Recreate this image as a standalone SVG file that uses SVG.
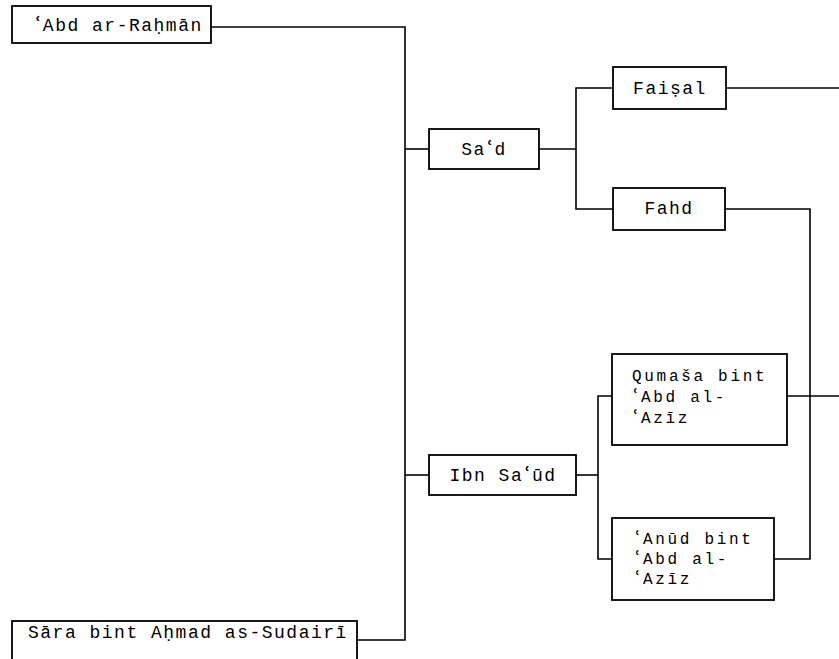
<svg xmlns="http://www.w3.org/2000/svg" width="839" height="659" viewBox="0 0 839 659">
<style>
.box{fill:#fff;stroke:#000;stroke-width:1.8}
.ln{fill:none;stroke:#000;stroke-width:1.6}
text{font-family:"Liberation Mono","DejaVu Sans Mono",monospace;font-size:18px;letter-spacing:1.5px;fill:#000}
text.m{font-size:16px;letter-spacing:2.7px}
.a{font-family:"DejaVu Sans","Noto Sans",sans-serif;font-size:20px;font-weight:bold}
text.m .a{font-size:17px}
</style>
<rect width="839" height="659" fill="#fff"/>
<g id="connectors">
<polyline class="ln" points="211,27 405,27 405,640 357,640"/>
<line class="ln" x1="405" y1="149" x2="429" y2="149"/>
<line class="ln" x1="405" y1="475" x2="429" y2="475"/>
<line class="ln" x1="539" y1="149" x2="576" y2="149"/>
<polyline class="ln" points="613,88 576,88 576,209 613,209"/>
<line class="ln" x1="726" y1="88" x2="839" y2="88"/>
<polyline class="ln" points="725,209 810,209 810,559 774,559"/>
<line class="ln" x1="576" y1="475" x2="598" y2="475"/>
<polyline class="ln" points="612,396 598,396 598,559 612,559"/>
<line class="ln" x1="787" y1="396" x2="839" y2="396"/>
</g>
<g id="abd-ar-rahman"><rect class="box" x="12" y="6" width="199" height="37"/><text x="34" y="31"><tspan class="a">ʿ</tspan>Abd ar-Raḥmān</text></g>
<g id="sara"><rect class="box" x="12" y="621" width="345" height="45"/><text x="28" y="638">Sāra bint Aḥmad as-Sudairī</text></g>
<g id="sad"><rect class="box" x="429" y="129" width="110" height="40"/><text x="484" y="155" text-anchor="middle">Sa<tspan class="a">ʿ</tspan>d</text></g>
<g id="ibn-saud"><rect class="box" x="429" y="455" width="147" height="40"/><text x="503" y="481" text-anchor="middle">Ibn Sa<tspan class="a">ʿ</tspan>ūd</text></g>
<g id="faisal"><rect class="box" x="613" y="67" width="113" height="42"/><text x="670" y="94" text-anchor="middle">Faiṣal</text></g>
<g id="fahd"><rect class="box" x="613" y="188" width="112" height="42"/><text x="669" y="214" text-anchor="middle">Fahd</text></g>
<g id="qumasa"><rect class="box" x="612" y="354" width="175" height="91"/><text class="m" x="632" y="381">Qumaša bint</text><text class="m" x="632" y="402"><tspan class="a">ʿ</tspan>Abd al-</text><text class="m" x="632" y="423"><tspan class="a">ʿ</tspan>Azīz</text></g>
<g id="anud"><rect class="box" x="612" y="518" width="162" height="82"/><text class="m" x="634" y="544"><tspan class="a">ʿ</tspan>Anūd bint</text><text class="m" x="634" y="564"><tspan class="a">ʿ</tspan>Abd al-</text><text class="m" x="634" y="584"><tspan class="a">ʿ</tspan>Azīz</text></g>
</svg>
